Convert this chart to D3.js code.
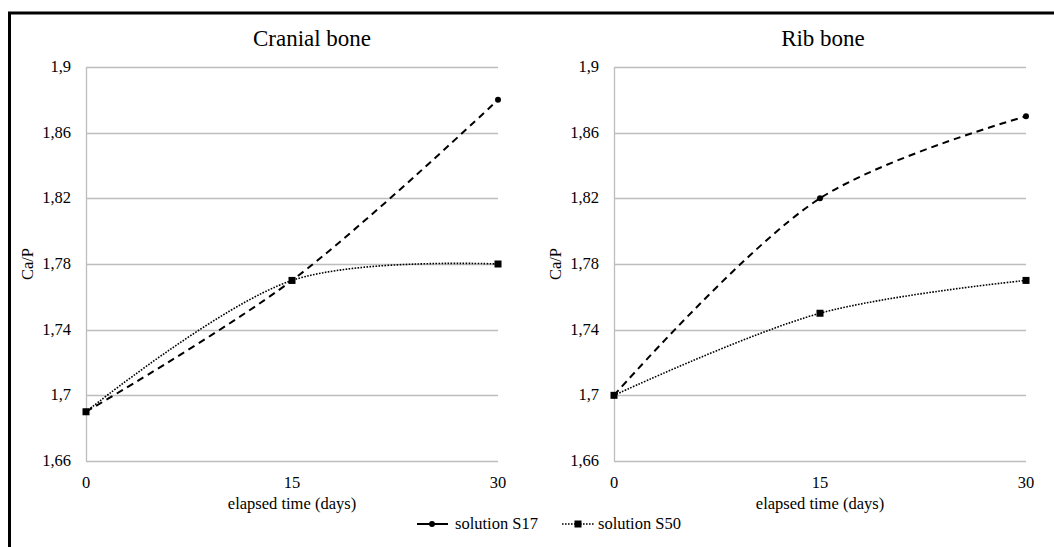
<!DOCTYPE html>
<html><head><meta charset="utf-8">
<script src="https://cdn.jsdelivr.net/npm/d3@7"></script>
<style>body{margin:0;background:#fff}svg{display:block}text{font-family:"Liberation Serif","Times New Roman",serif;fill:#000}</style>
</head><body><svg id="c" width="1054" height="547"></svg>
<script>
const days = [0, 15, 30];
const yTicks = [1.66, 1.7, 1.74, 1.78, 1.82, 1.86, 1.9];
const yTickLabels = ["1,66", "1,7", "1,74", "1,78", "1,82", "1,86", "1,9"];
const panelTitles = ["Cranial bone", "Rib bone"];
const cranialS17 = [1.69, 1.77, 1.88];
const cranialS50 = [1.69, 1.77, 1.78];
const ribS17 = [1.70, 1.82, 1.87];
const ribS50 = [1.70, 1.75, 1.77];
const seriesNames = ["solution S17", "solution S50"];

const svg = d3.select("#c");
svg.append("line").attr("x1",8).attr("x2",1054).attr("y1",13).attr("y2",13).attr("stroke","#000").attr("stroke-width",3);
svg.append("line").attr("x1",9.5).attr("x2",9.5).attr("y1",12).attr("y2",547).attr("stroke","#000").attr("stroke-width",3);

const panels = [
  {x0:86, x1:498, tx:312, title:panelTitles[0], s17:cranialS17, s50:cranialS50},
  {x0:614, x1:1026, tx:823, title:panelTitles[1], s17:ribS17, s50:ribS50}
];
const yTop = 67, yBot = 461;
const styles = [
  {dash:"7,5", w:2, marker:"circle"},
  {dash:"1.6,1.4", w:1.6, marker:"square"}
];
const fs = 16.5;

panels.forEach(p => {
  const g = svg.append("g");
  const x = d3.scaleLinear().domain([0,30]).range([p.x0,p.x1]);
  const y = d3.scaleLinear().domain([1.66,1.9]).range([yBot,yTop]);
  g.selectAll(".grid").data(yTicks).join("line")
    .attr("x1",p.x0).attr("x2",p.x1)
    .attr("y1",d=>Math.round(y(d))+0.5).attr("y2",d=>Math.round(y(d))+0.5)
    .attr("stroke","#bdbdbd").attr("stroke-width",1.3);
  g.append("line").attr("x1",p.x0+0.5).attr("x2",p.x0+0.5).attr("y1",yTop).attr("y2",yBot)
    .attr("stroke","#bdbdbd").attr("stroke-width",1.3);
  g.selectAll(".yl").data(yTicks).join("text")
    .attr("x",p.x0-15).attr("y",d=>y(d)+5)
    .attr("text-anchor","end").attr("font-size",fs)
    .text((d,i)=>yTickLabels[i]);
  g.selectAll(".xl").data(days).join("text")
    .attr("x",d=>x(d)).attr("y",488)
    .attr("text-anchor","middle").attr("font-size",fs).text(d=>d);
  g.append("text").attr("x",(p.x0+p.x1)/2).attr("y",509).attr("text-anchor","middle")
    .attr("font-size",fs).text("elapsed time (days)");
  g.append("text").attr("transform",`translate(${p.x0-53},${(yTop+yBot)/2}) rotate(-90)`)
    .attr("text-anchor","middle").attr("font-size",fs).text("Ca/P");
  g.append("text").attr("x",p.tx).attr("y",46).attr("text-anchor","middle")
    .attr("font-size",23).text(p.title);
  [p.s17, p.s50].forEach((vals,si)=>{
    const st = styles[si];
    const line = d3.line().x((d,i)=>x(days[i])).y(d=>y(d)).curve(d3.curveCatmullRom.alpha(0.5));
    g.append("path").datum(vals).attr("d",line).attr("fill","none")
      .attr("stroke","#000").attr("stroke-width",st.w).attr("stroke-dasharray",st.dash);
  });
  [p.s17, p.s50].forEach((vals,si)=>{
    const st = styles[si];
    vals.forEach((v,i)=>{
      if(st.marker==="circle") g.append("circle").attr("cx",x(days[i])).attr("cy",y(v)).attr("r",3).attr("fill","#000");
      else g.append("rect").attr("x",x(days[i])-3.5).attr("y",y(v)-3.5).attr("width",7).attr("height",7).attr("fill","#000");
    });
  });
});

const lg = svg.append("g");
lg.append("line").attr("x1",417).attr("x2",448).attr("y1",524).attr("y2",524).attr("stroke","#000").attr("stroke-width",2);
lg.append("circle").attr("cx",432).attr("cy",524).attr("r",3).attr("fill","#000");
lg.append("text").attr("x",455).attr("y",529).attr("font-size",fs).text(seriesNames[0]);
lg.append("line").attr("x1",562).attr("x2",594).attr("y1",524).attr("y2",524).attr("stroke","#000").attr("stroke-width",1.6).attr("stroke-dasharray","1.6,1.4");
lg.append("rect").attr("x",574.5).attr("y",520.5).attr("width",7).attr("height",7).attr("fill","#000");
lg.append("text").attr("x",598).attr("y",529).attr("font-size",fs).text(seriesNames[1]);
</script></body></html>
